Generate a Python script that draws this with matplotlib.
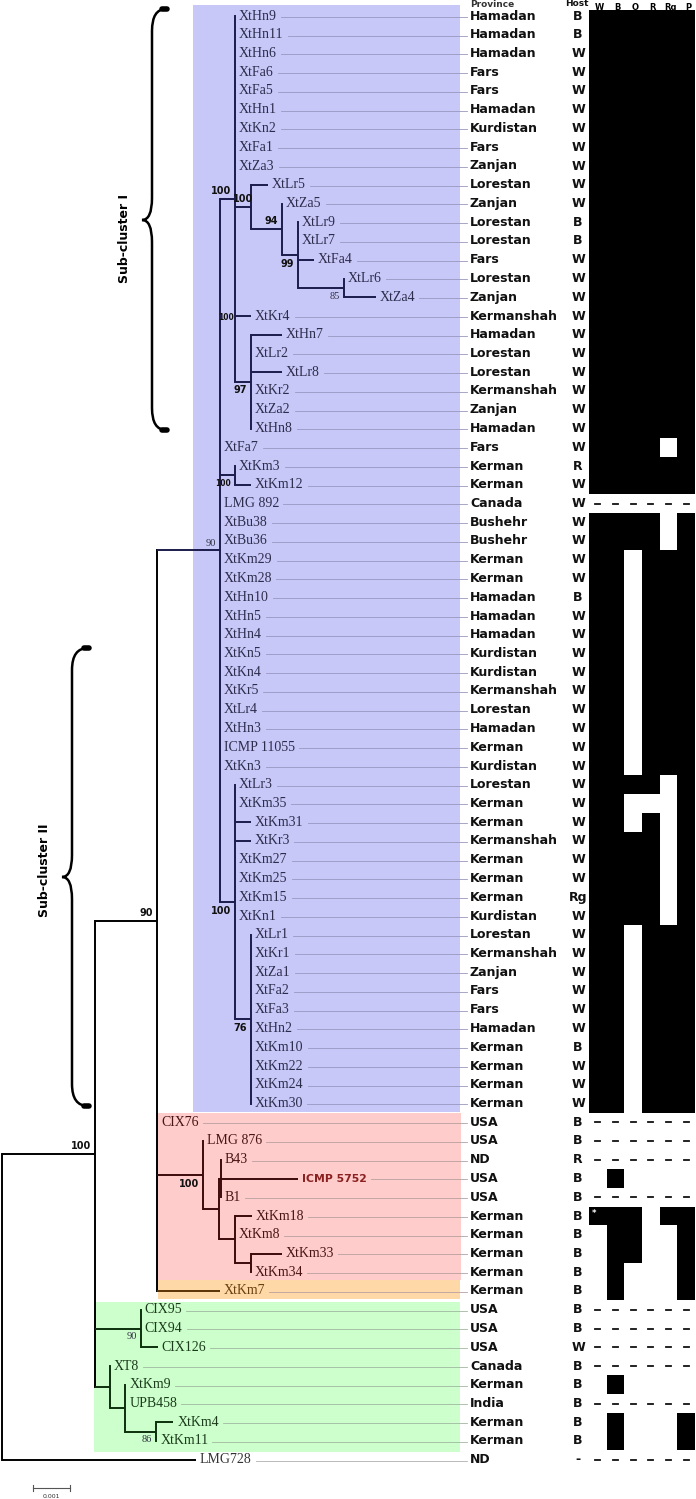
import numpy as np
import matplotlib.pyplot as plt
import matplotlib.transforms as mtransforms
from matplotlib.path import Path
from matplotlib.patches import PathPatch
from matplotlib.colors import ListedColormap

plt.rcParams['font.family'] = ['DejaVu Sans']

# ---------------- data ----------------
# tree pieces in newick, branch lengths in substitutions/site, internal names carry support
sub_I = ("(XtHn9:0,XtHn11:0,XtHn6:0,XtFa6:0,XtFa5:0,XtHn1:0,XtKn2:0,XtFa1:0,XtZa3:0,"
         "(XtLr5:0.00046,(XtZa5:0,(XtLr9:0,XtLr7:0,XtFa4:0.00043,(XtLr6:0,XtZa4:0.00086)n85:0.00124)n99:0.00043)n94:0.00084)n100a:0.00043,"
         "XtKr4:0.00043,"
         "(XtHn7:0.00084,XtLr2:0,XtLr8:0.00084,XtKr2:0,XtZa2:0,XtHn8:0)n97:0.00043)nI:0.00041")
km_pair = "(XtKm3:0,XtKm12:0.00043)n100b:0.00041"
grade = ("LMG 892:0,XtBu38:0,XtBu36:0,XtKm29:0,XtKm28:0,XtHn10:0,XtHn5:0,XtHn4:0,"
         "XtKn5:0,XtKn4:0,XtKr5:0,XtLr4:0,XtHn3:0,ICMP 11055:0,XtKn3:0")
sub_II = ("(XtLr3:0,XtKm35:0,XtKm31:0.00043,XtKr3:0.00043,XtKm27:0,XtKm25:0,XtKm15:0,XtKn1:0,"
          "(XtLr1:0,XtKr1:0,XtZa1:0,XtFa2:0,XtFa3:0,XtHn2:0,XtKm10:0,XtKm22:0,XtKm24:0,XtKm30:0)n76:0.00043)n100c:0.00041")
red_clade = ("(LMG 876:0,((B43:0,ICMP 5752:0.00208,B1:0)nB:0.00005,"
             "(XtKm18:0.00046,XtKm8:0,(XtKm33:0.00084,XtKm34:0)nK2:0.00043)nK:0.00043)nR:0.00043)n100d:0.00124")
cix_clade = "(CIX95:0,CIX94:0,CIX126:0.00046)n90c:0.00124"
xt8_clade = "(XT8:0,(XtKm9:0,UPB458:0,(XtKm4:0.00046,XtKm11:0)n86:0.00084)nU:0.00041)nX:0.00041"

support = {'nI': '100', 'n100a': '100', 'n94': '94', 'n99': '99', 'n85': '85', 'n97': '97',
           'n100b': '100', 'n90a': '90', 'n100c': '100', 'n76': '76', 'n90b': '90',
           'n100d': '100', 'n100e': '100', 'n90c': '90', 'n86': '86'}
leaf_support = {'XtKr4': '100'}

province = ['Hamadan', 'Hamadan', 'Hamadan', 'Fars', 'Fars', 'Hamadan', 'Kurdistan', 'Fars', 'Zanjan',
            'Lorestan', 'Zanjan', 'Lorestan', 'Lorestan', 'Fars', 'Lorestan', 'Zanjan', 'Kermanshah',
            'Hamadan', 'Lorestan', 'Lorestan', 'Kermanshah', 'Zanjan', 'Hamadan', 'Fars', 'Kerman',
            'Kerman', 'Canada', 'Bushehr', 'Bushehr', 'Kerman', 'Kerman', 'Hamadan', 'Hamadan',
            'Hamadan', 'Kurdistan', 'Kurdistan', 'Kermanshah', 'Lorestan', 'Hamadan', 'Kerman',
            'Kurdistan', 'Lorestan', 'Kerman', 'Kerman', 'Kermanshah', 'Kerman', 'Kerman', 'Kerman',
            'Kurdistan', 'Lorestan', 'Kermanshah', 'Zanjan', 'Fars', 'Fars', 'Hamadan', 'Kerman',
            'Kerman', 'Kerman', 'Kerman', 'USA', 'USA', 'ND', 'USA', 'USA', 'Kerman', 'Kerman',
            'Kerman', 'Kerman', 'Kerman', 'USA', 'USA', 'USA', 'Canada', 'Kerman', 'India', 'Kerman',
            'Kerman', 'ND']
host = ['B', 'B', 'W', 'W', 'W', 'W', 'W', 'W', 'W', 'W', 'W', 'B', 'B', 'W', 'W', 'W', 'W', 'W',
        'W', 'W', 'W', 'W', 'W', 'W', 'R', 'W', 'W', 'W', 'W', 'W', 'W', 'B', 'W', 'W', 'W', 'W',
        'W', 'W', 'W', 'W', 'W', 'W', 'W', 'W', 'W', 'W', 'W', 'Rg', 'W', 'W', 'W', 'W', 'W', 'W',
        'W', 'B', 'W', 'W', 'W', 'B', 'B', 'R', 'B', 'B', 'B', 'B', 'B', 'B', 'B', 'B', 'B', 'W',
        'B', 'B', 'B', 'B', 'B', '-']
host_cols = ['W', 'B', 'O', 'R', 'Rg', 'P']
# 1 = black cell, 0 = white cell, '-' = not tested
traits = (['111111'] * 23 + ['111101'] + ['111111'] * 2 + ['------'] + ['111101'] * 2 +
          ['110111'] * 12 + ['111101', '110001', '110101'] + ['111101'] * 5 + ['110111'] * 10 +
          ['------'] * 3 + ['010000', '------', '111011', '011001', '011001', '010001', '010001'] +
          ['------'] * 4 + ['010000', '------', '010001', '010001', '------'])

# shaded groups: first row, last row
groups = [(0, 58, '#c8c8f8'), (59, 67, '#ffcccc'), (68, 68, '#ffd8a8'), (69, 76, '#ccffcc')]


# ---------------- tree ----------------
def parse(s):
    s = s.strip().rstrip(';')
    pos = 0

    def node():
        nonlocal pos
        kids = []
        if s[pos] == '(':
            pos += 1
            while True:
                kids.append(node())
                if s[pos] == ',':
                    pos += 1
                    continue
                pos += 1
                break
        st = pos
        while pos < len(s) and s[pos] not in ':,)':
            pos += 1
        name = s[st:pos]
        ln = 0.0
        if pos < len(s) and s[pos] == ':':
            pos += 1
            st = pos
            while pos < len(s) and s[pos] not in ',)':
                pos += 1
            ln = float(s[st:pos])
        return {'name': name, 'len': ln, 'kids': kids}
    return node()


iran = "(" + sub_I + ",XtFa7:0," + km_pair + "," + grade + "," + sub_II + ")n90a:0.0017"
mid = "(" + iran + ",CIX76:0," + red_clade + ",XtKm7:0.0017)n90b:0.00168"
newick = "((" + mid + "," + cix_clade + "," + xt8_clade + ")n100e:0.00251,LMG728:0.00524);"
tree = parse(newick)

leaves = []


def layout(n, x0, col):
    n['x'] = x0 + n['len']
    n['col'] = clade_col.get(n['name'], col)
    if n['kids']:
        for k in n['kids']:
            layout(k, n['x'], n['col'])
        n['y'] = (n['kids'][0]['y'] + n['kids'][-1]['y']) / 2
    else:
        n['y'] = len(leaves)
        leaves.append(n)


clade_col = {'n90a': '#1c1c4c', 'n100d': '#3c0a0a', 'CIX76': '#3c0a0a', 'XtKm7': '#5a3206',
             'n90c': '#0c300c', 'nX': '#0c300c'}
label_col = {'#1c1c4c': '#2c2c4c', '#3c0a0a': '#4a1414', '#5a3206': '#6a4010',
             '#0c300c': '#1c3a1c', 'k': '#333333'}
layout(tree, 0.0, 'k')

W, H = 696, 1499
row0, pitch = 16, 18.75
upx = 0.001 / 37.0   # tree units per pixel

fig = plt.figure(figsize=(W / 100, H / 100), dpi=100)
ax = fig.add_axes([0, 0, 1, 1])
ax.set_xlim(-2 * upx, (W - 2) * upx)
ylim = ((H - row0) / pitch, -row0 / pitch)
ax.set_ylim(*ylim)
ax.axis('off')
trans = mtransforms.blended_transform_factory(ax.transAxes, ax.transData)

# shaded clade boxes
box_x = [(193, 460), (156, 461), (158, 460), (94, 460)]
box_pad = [(-0.6, 0.45), (-0.5, 0.4), (-0.6, 0.45), (-0.4, 0.6)]
for (a, b, c), (x0, x1), (p0, p1) in zip(groups, box_x, box_pad):
    ax.axhspan(a + p0, b + p1, xmin=x0 / W, xmax=x1 / W, color=c, lw=0, zorder=0)

lw = 1.4


def draw(n):
    if not n['kids']:
        return
    ax.plot([n['x'], n['x']], [n['kids'][0]['y'], n['kids'][-1]['y']], color=n['col'], lw=lw,
            solid_capstyle='projecting', zorder=3)
    for k in n['kids']:
        if k['len'] > 0:
            ax.plot([n['x'], k['x']], [k['y'], k['y']], color=k['col'], lw=lw,
                    solid_capstyle='butt', zorder=3)
        draw(k)


draw(tree)

# support values
below = {'n99', 'n85', 'n97', 'n100b', 'n100c', 'n76', 'n100d', 'n90c', 'n86'}
serif = {'n85', 'n90a', 'n90c', 'n86'}
small = {'n100b'}
shift = {'n100a': 6}


def walk(n):
    yield n
    for k in n['kids']:
        yield from walk(k)


for n in walk(tree):
    if n['name'] in support:
        kw = dict(fontsize=7, fontweight='bold', color='#111111')
        if n['name'] in serif:
            kw = dict(fontsize=7.5, family=['Liberation Serif'], color='#333344')
        if n['name'] in small:
            kw['fontsize'] = 5.5
        xs = n['x'] + (shift.get(n['name'], 0) - 4) * upx
        if n['name'] in below:
            ax.text(xs, n['y'] + 0.2, support[n['name']], ha='right', va='top', zorder=5, **kw)
        else:
            ax.text(xs, n['y'] - 0.15, support[n['name']], ha='right', va='bottom', zorder=5, **kw)
for lf in leaves:
    if lf['name'] in leaf_support:
        ax.text(lf['x'] - lf['len'] - 1 * upx, lf['y'] + 0.1, leaf_support[lf['name']], ha='right',
                va='center', fontsize=5.5, fontweight='bold', color='#111111', zorder=5)

# leaf labels
labels = []
for lf in leaves:
    c = label_col[lf['col']]
    if lf['name'] == 'ICMP 5752':
        t = ax.text(lf['x'] + 4 * upx, lf['y'], lf['name'], ha='left', va='center', fontsize=7.8,
                    fontweight='bold', color='#8a2020', zorder=5)
    else:
        t = ax.text(lf['x'] + 4 * upx, lf['y'], lf['name'], ha='left', va='center', fontsize=10,
                    family=['Liberation Serif'], color=c, zorder=5)
    labels.append(t)

# province and host columns
for i in range(len(leaves)):
    ax.text(470 / W, i, province[i], transform=trans, ha='left', va='center', fontsize=9,
            fontweight='bold', color='#111111', zorder=5)
    ax.text(578 / W, i, host[i], transform=trans, ha='center', va='center', fontsize=9,
            fontweight='bold', color='#111111', zorder=5)
ax.text(470 / W, -0.62, 'Province', transform=trans, ha='left', va='center', fontsize=6.5,
        fontweight='bold', color='#333333')
ax.text(577 / W, -0.66, 'Host', transform=trans, ha='center', va='center', fontsize=6.5,
        fontweight='bold', color='#111111')

# leader lines from labels to province column
fig.canvas.draw()
rend = fig.canvas.get_renderer()
inv = ax.transData.inverted()
x_end = inv.transform(ax.transAxes.transform((467 / W, 0)))[0]
for lf, t in zip(leaves, labels):
    bb = t.get_window_extent(rend)
    xr = inv.transform((bb.x1, 0))[0] + 4 * upx
    lc = '#9898c0' if lf['y'] <= 58 else ('#b8a0a0' if lf['y'] <= 68 else '#a0b8a0')
    if lf['y'] == 77:
        lc = '#b0b0b0'
    ax.plot([xr, x_end], [lf['y'] + 0.05, lf['y'] + 0.05], color=lc, lw=0.6, zorder=2)

# scale bar
sb_x, sb_y = 0.00084, 78.5
ax.plot([sb_x, sb_x + 0.001], [sb_y, sb_y], color='#555555', lw=0.8)
for xx in (sb_x, sb_x + 0.001):
    ax.plot([xx, xx], [sb_y - 0.15, sb_y + 0.15], color='#555555', lw=0.8)
ax.text(sb_x + 0.0005, sb_y + 0.3, '0.001', ha='center', va='top', fontsize=4.5, color='#333333')

# presence / absence matrix
axm = fig.add_axes([589 / W, 0, 106 / W, 1])
axm.set_xlim(-0.5, 5.5)
axm.set_ylim(*ylim)
axm.axis('off')
mat = np.array([[np.nan] * 6 if r[0] == '-' else [int(ch) for ch in r] for r in traits], dtype=float)
cm = ListedColormap(['white', 'black'])
cm.set_bad(alpha=0)
x_edges = np.arange(-0.5, 6)
y_edges = np.arange(-0.5, len(traits))
y_edges[0] = -0.3
axm.pcolormesh(x_edges, y_edges, np.ma.masked_invalid(mat), cmap=cm, vmin=0, vmax=1)
for i, r in enumerate(traits):
    if r[0] == '-':
        for j in range(6):
            axm.plot([j - 0.15, j + 0.15], [i, i], color='#111111', lw=1.3)
for j, c in enumerate(host_cols):
    axm.text(j + 0.1, -0.47, c, ha='center', va='center', fontsize=6, fontweight='bold')
axm.text(-0.2, 63.85, '*', ha='center', va='center', color='white', fontsize=6, fontweight='bold')

# sub-cluster braces (pixel overlay)
ax2 = fig.add_axes([0, 0, 1, 1])
ax2.set_xlim(0, W)
ax2.set_ylim(H, 0)
ax2.axis('off')


def brace(x_end, x_mid, x_tip, y_top, y_tip, y_bot, r=22):
    verts = [(x_end, y_top), (x_mid, y_top), (x_mid, y_top + r), (x_mid, y_tip - r),
             (x_mid, y_tip), (x_tip, y_tip), (x_mid, y_tip), (x_mid, y_tip + r),
             (x_mid, y_bot - r), (x_mid, y_bot), (x_end, y_bot)]
    codes = [Path.MOVETO, Path.CURVE3, Path.CURVE3, Path.LINETO, Path.CURVE3, Path.CURVE3,
             Path.CURVE3, Path.CURVE3, Path.LINETO, Path.CURVE3, Path.CURVE3]
    ax2.add_patch(PathPatch(Path(verts, codes), fc='none', ec='black', lw=1.8))
    for yy in (y_top, y_bot):
        ax2.plot([x_end - 4, x_end + 1], [yy, yy], color='black', lw=4, solid_capstyle='round')


brace(166, 152, 142, 9, 220, 430)
ax2.text(125, 238, 'Sub-cluster I', rotation=90, ha='center', va='center', fontsize=9,
         fontweight='bold')
brace(88, 72, 62, 648, 877, 1106)
ax2.text(45, 870, 'Sub-cluster II', rotation=90, ha='center', va='center', fontsize=9,
         fontweight='bold')

fig.savefig('out.png', dpi=100)
